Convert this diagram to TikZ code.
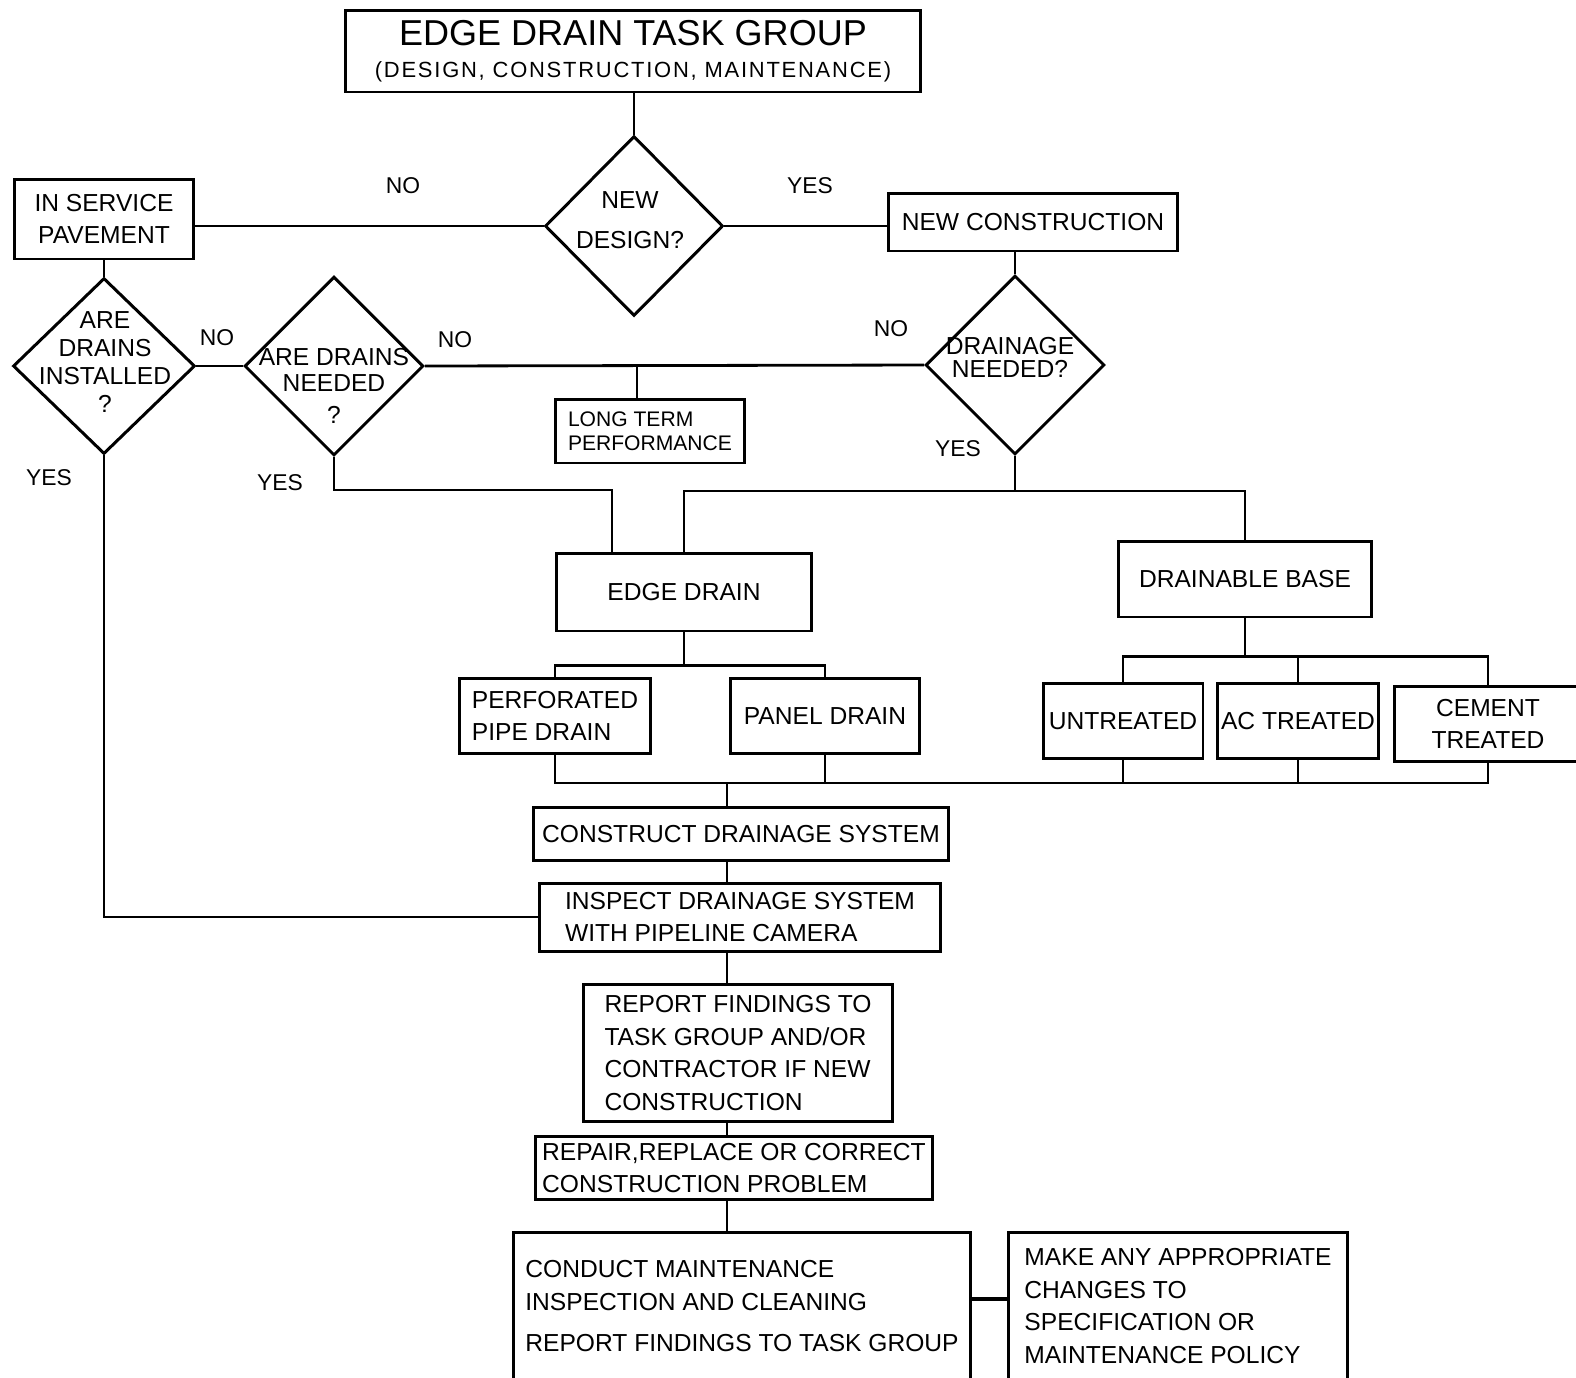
\documentclass[tikz,border=0pt]{standalone}
\usepackage{fontspec}
\setmainfont{Liberation Sans}
\newfontfamily\widesans[LetterSpace=8]{Liberation Sans}
\usetikzlibrary{shapes.geometric}
\tikzset{
  box/.style={draw, line width=1.7pt, inner sep=0pt, align=center, font=\fontsize{14}{18.5}\selectfont},
  dia/.style={draw, diamond, line width=1.7pt, inner sep=0pt, minimum width=3.58cm, minimum height=3.58cm},
  txt/.style={inner sep=0pt, align=center, font=\fontsize{14}{16}\selectfont},
  lbl/.style={inner sep=0pt, font=\fontsize{13}{15}\selectfont}
}
\begin{document}
\begin{tikzpicture}[x=0.02cm, y=-0.02cm, line width=1.6pt]
\useasboundingbox (0,0) rectangle (1576,1377);
% boxes
\node[box, minimum width=11.52cm, minimum height=1.64cm, font=\widesans\fontsize{12.5}{16}\selectfont] (tg) at (633,51) {{\rmfamily\fontsize{20.5}{22}\selectfont EDGE DRAIN TASK GROUP}\\[2pt](DESIGN, CONSTRUCTION, MAINTENANCE)};
\node[box, minimum width=3.6cm, minimum height=1.6cm] (isp) at (104,219) {IN SERVICE\\PAVEMENT};
\node[box, minimum width=5.8cm, minimum height=1.16cm] (nc) at (1033,222) {NEW CONSTRUCTION};
\node[box, minimum width=3.78cm, minimum height=1.28cm, align=left, font=\fontsize{12}{13.5}\selectfont] (ltp) at (650,431) {LONG TERM\\PERFORMANCE};
\node[box, minimum width=5.1cm, minimum height=1.56cm] (ed) at (684,592) {EDGE DRAIN};
\node[box, minimum width=5.06cm, minimum height=1.52cm] (db) at (1245,579) {DRAINABLE BASE};
\node[box, minimum width=3.82cm, minimum height=1.5cm, align=left] (pp) at (555,716) {PERFORATED\\PIPE DRAIN};
\node[box, minimum width=3.8cm, minimum height=1.5cm] (pd) at (825,716) {PANEL DRAIN};
\node[box, minimum width=3.2cm, minimum height=1.5cm] (un) at (1123,721) {UNTREATED};
\node[box, minimum width=3.22cm, minimum height=1.5cm] (ac) at (1298,721) {AC TREATED};
\node[box, minimum width=3.76cm, minimum height=1.5cm] (ct) at (1488,724) {CEMENT\\TREATED};
\node[box, minimum width=8.3cm, minimum height=1.06cm] (cds) at (741,834) {CONSTRUCT DRAINAGE SYSTEM};
\node[box, minimum width=8.02cm, minimum height=1.36cm, align=left] (isc) at (740,917) {INSPECT DRAINAGE SYSTEM\\WITH PIPELINE CAMERA};
\node[box, minimum width=6.18cm, minimum height=2.74cm, align=left] (rf) at (738,1053) {REPORT FINDINGS TO\\TASK GROUP AND/OR\\CONTRACTOR IF NEW\\CONSTRUCTION};
\node[box, minimum width=7.96cm, minimum height=1.26cm, align=left] (rr) at (734,1168) {REPAIR,REPLACE OR CORRECT\\CONSTRUCTION PROBLEM};
\node[box, minimum width=9.16cm, minimum height=2.96cm, align=left] (cm) at (742,1306) {CONDUCT MAINTENANCE\\INSPECTION AND CLEANING\\[5pt]REPORT FINDINGS TO TASK GROUP};
\node[box, minimum width=6.78cm, minimum height=2.94cm, align=left] (mk) at (1178,1306) {MAKE ANY APPROPRIATE\\CHANGES TO\\SPECIFICATION OR\\MAINTENANCE POLICY};
% decisions
\node[dia, minimum width=3.56cm, minimum height=3.6cm] (nd) at (634,226) {};
\node[txt, font=\fontsize{14}{23}\selectfont] (ndT) at (630,220) {NEW\\DESIGN?};
\node[dia, minimum width=3.64cm, minimum height=3.52cm] (ins) at (104,366) {};
\node[txt] (insT) at (105,362) {ARE\\DRAINS\\INSTALLED\\?};
\node[dia] (adn) at (334,366) {};
\node[txt, font=\fontsize{14}{15}\selectfont] (adnT) at (334,386) {ARE DRAINS\\NEEDED\\[3pt]?};
\node[dia] (dn) at (1015,365) {};
\node[txt, font=\fontsize{14}{13}\selectfont] (dnT) at (1010,357) {DRAINAGE\\NEEDED?};
% yes / no
\node[lbl] (no1) at (403,186) {NO};
\node[lbl] (yes1) at (810,186) {YES};
\node[lbl] (no2) at (217,338) {NO};
\node[lbl] (no3) at (455,340) {NO};
\node[lbl] (no4) at (891,329) {NO};
\node[lbl] (yes2) at (958,449) {YES};
\node[lbl] (yes3) at (49,478) {YES};
\node[lbl] (yes4) at (280,483) {YES};
% connectors
\draw (nd.north |- tg.south) -- (nd.north);
\draw (nd.west) -- (isp.east |- nd.west);
\draw (nd.east) -- (nc.west |- nd.east);
\draw (isp.south) -- (ins.north);
\draw (dn.north |- nc.south) -- (dn.north);
\draw (ins.east) -- (adn.west);
\draw (adn.east) -- (dn.west);
\draw ([xshift=-0.26cm]ltp.north) -- ([xshift=-0.26cm]ltp.north |- adn.east);
\draw (adn.south) -- ++(0,33) -| ([xshift=-1.44cm]ed.north);
\draw (dn.south) -- ++(0,35) coordinate (dnj);
\draw (ed.north) |- (dnj) -| (db.north);
\draw (ed.south) -- ++(0,33) coordinate (edj);
\draw (pp.north) |- (edj) -| (pd.north);
\draw (db.south) -- ++(0,38) coordinate (dbj);
\draw (un.north) |- (dbj) -| (ct.north);
\draw (ac.north) -- (ac.north |- dbj);
\coordinate (sp) at ([xshift=-0.28cm]cds.north);
\draw (sp) -- ++(0,-23) coordinate (cj);
\draw (pp.south) |- (cj) -| (ct.south);
\foreach \b in {pd,un,ac}
  \draw (\b.south) -- (\b.south |- cj);
\draw (sp |- cds.south) -- (sp |- isc.north);
\draw (sp |- isc.south) -- (sp |- rf.north);
\draw (sp |- rf.south) -- (sp |- rr.north);
\draw (sp |- rr.south) -- (sp |- cm.north);
\draw (ins.south) |- (isc.west);
\draw[line width=2.8pt] ([yshift=0.14cm]cm.east) -- ([yshift=0.14cm]mk.west);
\end{tikzpicture}
\end{document}
